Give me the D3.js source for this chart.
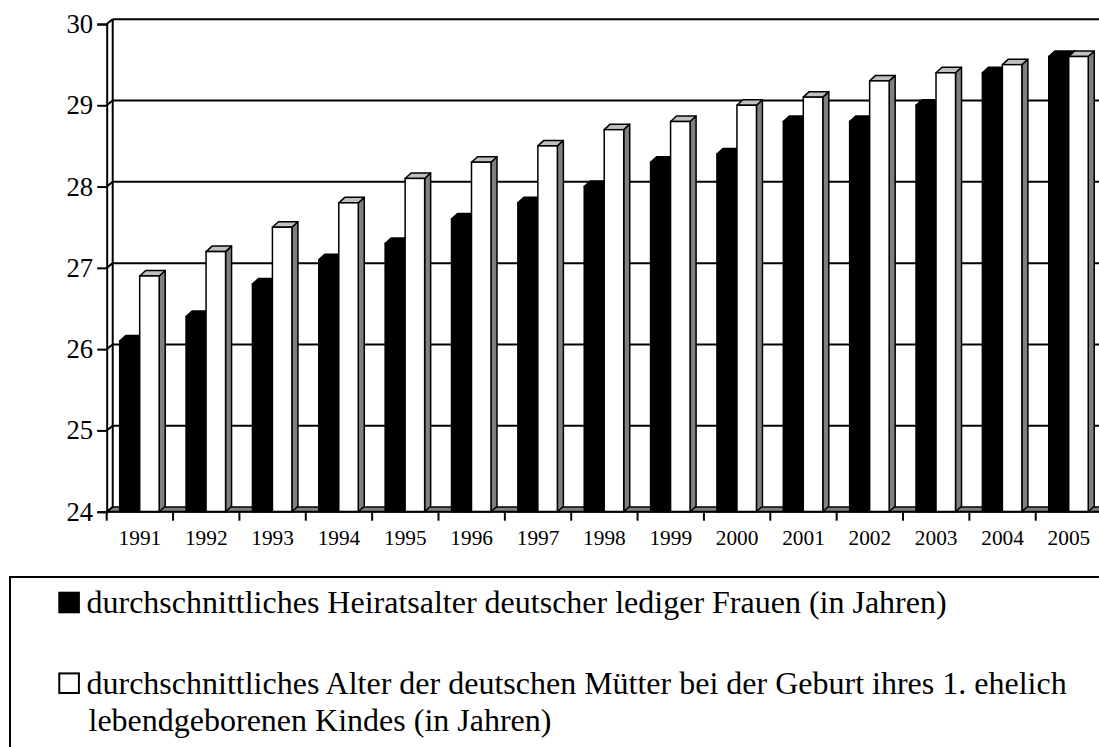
<!DOCTYPE html>
<html>
<head>
<meta charset="utf-8">
<script src="https://cdn.jsdelivr.net/npm/d3@7"></script>
<style>
  body { margin: 0; background: #fff; }
</style>
</head>
<body>
<div id="chart"></div>
<script>
const years = ["1991","1992","1993","1994","1995","1996","1997","1998","1999","2000","2001","2002","2003","2004","2005"];
const heiratsalter = [26.1, 26.4, 26.8, 27.1, 27.3, 27.6, 27.8, 28.0, 28.3, 28.4, 28.8, 28.8, 29.0, 29.4, 29.6];
const alterMutter = [26.9, 27.2, 27.5, 27.8, 28.1, 28.3, 28.5, 28.7, 28.8, 29.0, 29.1, 29.3, 29.4, 29.5, 29.6];
const yTicks = [24, 25, 26, 27, 28, 29, 30];
const legendLabels = [
  ["durchschnittliches Heiratsalter deutscher lediger Frauen (in Jahren)"],
  ["durchschnittliches Alter der deutschen Mütter bei der Geburt ihres 1. ehelich",
   "lebendgeborenen Kindes (in Jahren)"]
];

const FONT = "'Liberation Serif', 'Times New Roman', Times, 'DejaVu Serif', serif";
const width = 1099, height = 747;
const plotLeft = 106.7, plotBottom = 511.7, plotTop = 24;
const plotRight = plotLeft + 15 * 66.36;
const wallDx = 6, wallDy = 4.7;   // depth of back wall
const barDx = 6, barDy = 5.5;     // depth of bars

const svg = d3.select("#chart").append("svg")
  .attr("width", width)
  .attr("height", height)
  .style("font-family", FONT);

const x = d3.scaleBand().domain(years).range([plotLeft, plotRight]).padding(0);
const y = d3.scaleLinear().domain([24, 30]).range([plotBottom, plotTop]);

// floor
const edge = plotRight + 20;
svg.append("path")
  .attr("d", `M${plotLeft},${plotBottom} L${plotLeft + wallDx},${plotBottom - wallDy} L${edge},${plotBottom - wallDy} L${edge},${plotBottom} Z`)
  .attr("fill", "#808080")
  .attr("stroke", "#000")
  .attr("stroke-width", 1.5);

// back wall grid lines + left wall diagonals
const grid = svg.append("g").attr("class", "grid");
grid.selectAll("line.back")
  .data(yTicks.filter(d => d > 24))
  .enter().append("line")
  .attr("class", "back")
  .attr("x1", plotLeft + wallDx).attr("x2", edge)
  .attr("y1", d => y(d) - wallDy).attr("y2", d => y(d) - wallDy)
  .attr("stroke", "#000").attr("stroke-width", 2);

grid.selectAll("line.side")
  .data(yTicks)
  .enter().append("line")
  .attr("class", "side")
  .attr("x1", plotLeft).attr("x2", plotLeft + wallDx)
  .attr("y1", d => y(d)).attr("y2", d => y(d) - wallDy)
  .attr("stroke", "#000").attr("stroke-width", 2);

grid.append("line")
  .attr("x1", plotLeft + wallDx).attr("x2", plotLeft + wallDx)
  .attr("y1", y(30) - wallDy).attr("y2", y(24) - wallDy)
  .attr("stroke", "#000").attr("stroke-width", 2);

// bars
function bar3d(g, x0, w, v, front, topC, sideC) {
  const yt = y(v);
  g.append("path")
    .attr("d", `M${x0 + w},${yt} L${x0 + w + barDx},${yt - barDy} L${x0 + w + barDx},${plotBottom - barDy} L${x0 + w},${plotBottom} Z`)
    .attr("fill", sideC).attr("stroke", "#000").attr("stroke-width", 1.5).attr("stroke-linejoin", "round");
  g.append("path")
    .attr("d", `M${x0},${yt} L${x0 + barDx},${yt - barDy} L${x0 + w + barDx},${yt - barDy} L${x0 + w},${yt} Z`)
    .attr("fill", topC).attr("stroke", "#000").attr("stroke-width", 1.5).attr("stroke-linejoin", "round");
  g.append("rect")
    .attr("x", x0).attr("y", yt)
    .attr("width", w).attr("height", plotBottom - yt)
    .attr("fill", front).attr("stroke", "#000").attr("stroke-width", 1.5);
}

const bars = svg.append("g").attr("class", "bars");
years.forEach((yr, i) => {
  const g = bars.append("g");
  bar3d(g, x(yr) + 13, 20, heiratsalter[i], "#000", "#000", "#000");
  bar3d(g, x(yr) + 33, 19.5, alterMutter[i], "#fff", "#c0c0c0", "#808080");
});

// y axis
const yAxis = svg.append("g")
  .attr("transform", `translate(${plotLeft},0)`)
  .call(d3.axisLeft(y).tickValues(yTicks).tickFormat(d3.format("d")).tickSize(9.5).tickPadding(4));
yAxis.attr("font-family", FONT).attr("font-size", null);
yAxis.select(".domain").attr("stroke", "#000").attr("stroke-width", 2);
yAxis.selectAll(".tick line").attr("stroke", "#000").attr("stroke-width", 2);
yAxis.selectAll("text")
  .style("font-family", FONT).style("font-size", "26.67px").attr("fill", "#000");

// x axis
const xAxis = svg.append("g")
  .attr("transform", `translate(0,${plotBottom})`)
  .call(d3.axisBottom(x).tickSize(0));
xAxis.attr("font-family", FONT).attr("font-size", null);
xAxis.select(".domain").remove();
xAxis.selectAll("text")
  .attr("y", 33.8).attr("dy", 0)
  .style("font-family", FONT).style("font-size", "21.33px").attr("fill", "#000");
svg.append("line")
  .attr("x1", plotLeft).attr("x2", edge)
  .attr("y1", plotBottom).attr("y2", plotBottom)
  .attr("stroke", "#000").attr("stroke-width", 2);
svg.append("g").selectAll("line")
  .data(years)
  .enter().append("line")
  .attr("x1", d => x(d)).attr("x2", d => x(d))
  .attr("y1", plotBottom).attr("y2", plotBottom + 9)
  .attr("stroke", "#000").attr("stroke-width", 2);

// legend
const legend = svg.append("g").attr("class", "legend");
legend.append("rect")
  .attr("x", 10).attr("y", 577)
  .attr("width", 1200).attr("height", 300)
  .attr("fill", "none").attr("stroke", "#000").attr("stroke-width", 2);

const legendY = [613.3, 694];
const swatch = ["#000", "#fff"];
legendLabels.forEach((lines, i) => {
  legend.append("rect")
    .attr("x", 59.3).attr("y", legendY[i] - 20.6)
    .attr("width", 19.6).attr("height", 19.6)
    .attr("fill", swatch[i]).attr("stroke", "#000").attr("stroke-width", 2);
  lines.forEach((t, j) => {
    legend.append("text")
      .attr("x", j === 0 ? 86.5 : 88.5)
      .attr("y", legendY[i] + j * 36.8)
      .style("font-family", FONT)
      .style("font-size", "32px")
      .text(t);
  });
});
</script>
</body>
</html>
